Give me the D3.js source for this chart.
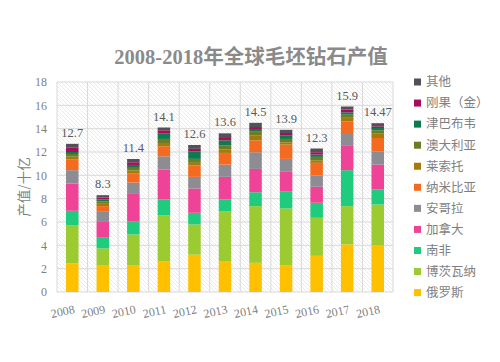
<!DOCTYPE html>
<html>
<head>
<meta charset="utf-8">
<script src="https://cdn.jsdelivr.net/npm/d3@7"></script>
<style>
  body { margin: 0; background: #fff; }
  svg { display: block; }
</style>
</head>
<body>
<script>
// values in billion USD
const years = ["2008", "2009", "2010", "2011", "2012", "2013", "2014", "2015", "2016", "2017", "2018"];
const seriesNames = ["俄罗斯", "博茨瓦纳", "南非", "加拿大", "安哥拉", "纳米比亚", "莱索托", "澳大利亚", "津巴布韦", "刚果（金）", "其他"];
const seriesColors = ["#ffc000", "#9bcb30", "#1fcb7c", "#ef4398", "#8d8c93", "#f46a1e", "#a7790b", "#6d7b22", "#0e7a4e", "#a40e5b", "#545058"];

const russia    = [2.45, 2.31, 2.31, 2.65, 3.20, 2.60, 2.50, 2.30, 3.10, 4.08, 3.99];
const botswana  = [3.28, 1.43, 2.62, 3.91, 2.59, 4.30, 4.86, 4.86, 3.26, 3.28, 3.51];
const southAfr  = [1.23, 0.91, 1.14, 1.37, 1.00, 1.03, 1.19, 1.48, 1.29, 3.08, 1.28];
const canada    = [2.34, 1.42, 2.40, 2.56, 2.08, 1.94, 2.00, 1.71, 1.37, 2.14, 2.14];
const angola    = [1.14, 0.86, 0.91, 1.14, 1.00, 1.05, 1.43, 1.06, 0.96, 1.05, 1.14];
const namibia   = [0.91, 0.43, 0.80, 0.86, 0.97, 1.00, 1.02, 1.22, 1.09, 1.00, 1.14];
const lesotho   = [0.25, 0.20, 0.23, 0.28, 0.23, 0.29, 0.40, 0.20, 0.22, 0.30, 0.37];
const australia = [0.23, 0.20, 0.23, 0.35, 0.34, 0.34, 0.34, 0.29, 0.29, 0.27, 0.29];
const zimbabwe  = [0.17, 0.17, 0.25, 0.45, 0.65, 0.45, 0.23, 0.28, 0.20, 0.20, 0.20];
const congo     = [0.40, 0.17, 0.23, 0.29, 0.21, 0.20, 0.17, 0.23, 0.20, 0.23, 0.14];
const others    = [0.30, 0.20, 0.28, 0.24, 0.33, 0.40, 0.36, 0.27, 0.32, 0.27, 0.27];

const totalLabels = ["12.7", "8.3", "11.4", "14.1", "12.6", "13.6", "14.5", "13.9", "12.3", "15.9", "14.47"];
const yTicks = [0, 2, 4, 6, 8, 10, 12, 14, 16, 18];

const seriesValues = [russia, botswana, southAfr, canada, angola, namibia, lesotho, australia, zimbabwe, congo, others];
const table = years.map((yr, i) => {
    const row = {year: yr};
    seriesNames.forEach((s, j) => row[s] = seriesValues[j][i]);
    return row;
});

const serif = "'Liberation Serif', 'Noto Sans CJK SC', serif";
const cjk = "'Noto Sans CJK SC', sans-serif";
const grey = "#7f7f7f";

const svg = d3.select("body").append("svg")
    .attr("width", 500)
    .attr("height", 362);

const margin = {top: 82, right: 107, bottom: 70, left: 57},
      width = 500 - margin.left - margin.right,
      height = 362 - margin.top - margin.bottom;

// hatched plot background
const defs = svg.append("defs");
defs.append("pattern")
    .attr("id", "hatch")
    .attr("patternUnits", "userSpaceOnUse")
    .attr("width", 4)
    .attr("height", 4)
  .append("path")
    .attr("d", "M0,0 L4,4 M-1,3 L1,5 M3,-1 L5,1")
    .attr("stroke", "#e2e2e2")
    .attr("stroke-width", 0.7);

const g = svg.append("g").attr("transform", `translate(${margin.left},${margin.top})`);

const x = d3.scaleBand().domain(years).range([0, width]).paddingInner(0.59).paddingOuter(0.295);
const y = d3.scaleLinear().domain([0, 18]).range([height, 0]);

g.append("rect")
    .attr("width", width)
    .attr("height", height)
    .attr("fill", "url(#hatch)");

// horizontal grid
g.append("g")
  .selectAll("line")
  .data(yTicks)
  .join("line")
    .attr("x1", 0).attr("x2", width)
    .attr("y1", d => y(d)).attr("y2", d => y(d))
    .attr("stroke", "#d9d9d9");

// vertical grid at category boundaries
const step = x.step();
g.append("g")
  .selectAll("line")
  .data(d3.range(years.length + 1))
  .join("line")
    .attr("x1", i => i * step).attr("x2", i => i * step)
    .attr("y1", 0).attr("y2", height)
    .attr("stroke", "#d9d9d9");

const stack = d3.stack().keys(seriesNames);
const layers = stack(table);

g.append("g")
  .selectAll("g")
  .data(layers)
  .join("g")
    .attr("fill", (d, i) => seriesColors[i])
  .selectAll("rect")
  .data(d => d)
  .join("rect")
    .attr("x", d => x(d.data.year))
    .attr("y", d => y(d[1]))
    .attr("height", d => y(d[0]) - y(d[1]))
    .attr("width", x.bandwidth());

// total labels
const topLayer = layers[layers.length - 1];
g.append("g")
  .selectAll("text")
  .data(topLayer)
  .join("text")
    .attr("x", d => x(d.data.year) + x.bandwidth() / 2)
    .attr("y", d => y(d[1]) - 7)
    .attr("text-anchor", "middle")
    .attr("font-family", serif)
    .attr("font-size", 12.5)
    .attr("fill", "#595959")
    .text((d, i) => totalLabels[i]);

// y axis
const yAxis = g.append("g")
    .call(d3.axisLeft(y).tickValues(yTicks).tickSize(0).tickPadding(10));
yAxis.select(".domain").remove();
yAxis.selectAll("text")
    .attr("font-family", serif)
    .attr("font-size", 12)
    .attr("fill", grey);

// x axis, slightly tilted labels
const xAxis = g.append("g")
    .attr("transform", `translate(0,${height})`)
    .call(d3.axisBottom(x).tickSize(0).tickPadding(0));
xAxis.select(".domain").remove();
xAxis.selectAll("text")
    .attr("text-anchor", "end")
    .attr("dy", 0)
    .attr("transform", "translate(3,21) rotate(-12)")
    .attr("font-family", serif)
    .attr("font-size", 12)
    .attr("fill", grey);

// y title
svg.append("text")
    .attr("transform", `translate(29,${margin.top + height / 2}) rotate(-90)`)
    .attr("text-anchor", "middle")
    .attr("font-family", cjk)
    .attr("font-size", 13.5)
    .attr("fill", grey)
    .text("产值/十亿");

// title
svg.append("text")
    .attr("x", 251)
    .attr("y", 64)
    .attr("text-anchor", "middle")
    .attr("font-family", serif)
    .attr("font-weight", "bold")
    .attr("font-size", 20.5)
    .attr("fill", "#8a8a8a")
    .text("2008-2018年全球毛坯钻石产值");

// legend, top item is the last series
const legend = svg.append("g")
    .attr("transform", "translate(414,82)");
const items = legend.selectAll("g")
  .data(seriesNames.slice().reverse())
  .join("g")
    .attr("transform", (d, i) => `translate(0,${i * 21.06})`);
items.append("rect")
    .attr("x", 0).attr("y", -3.5)
    .attr("width", 7).attr("height", 7)
    .attr("fill", d => seriesColors[seriesNames.indexOf(d)]);
items.append("text")
    .attr("x", 12)
    .attr("y", 0)
    .attr("dy", "0.35em")
    .attr("font-family", cjk)
    .attr("font-size", 12.5)
    .attr("fill", grey)
    .text(d => d);
</script>
</body>
</html>
